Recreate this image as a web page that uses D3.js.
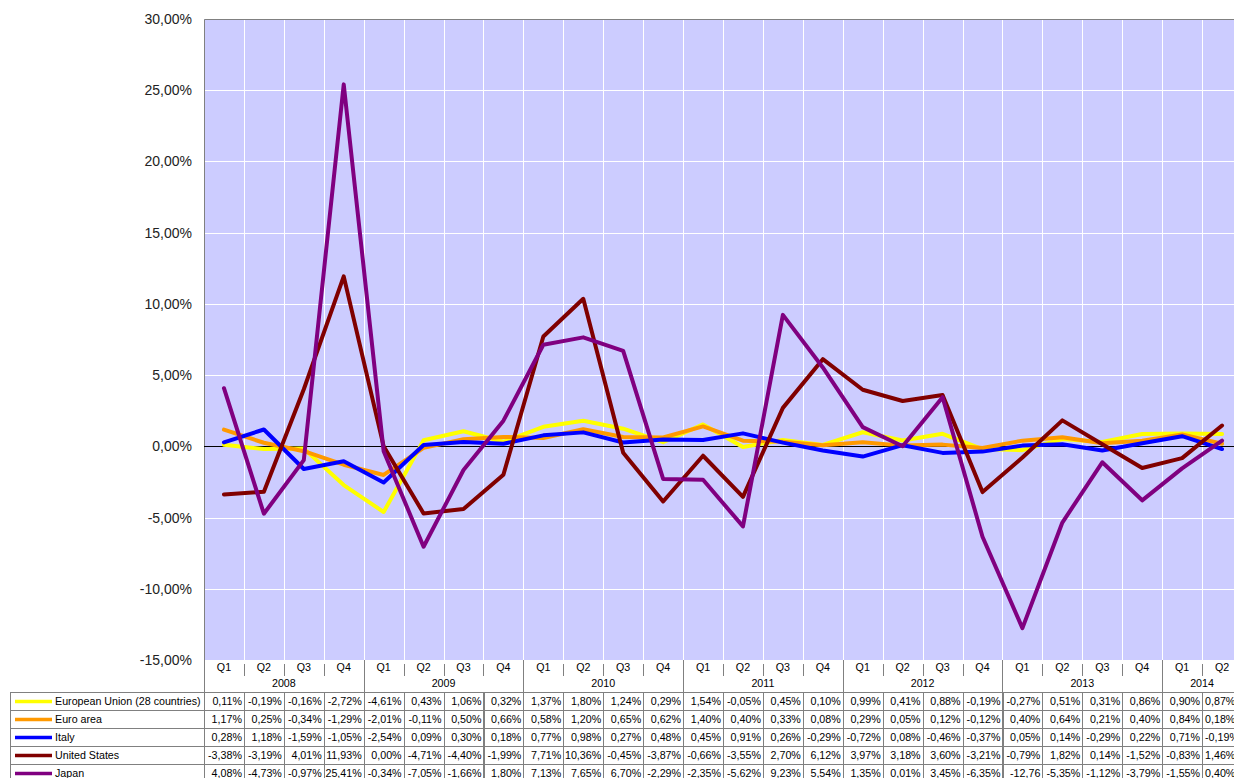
<!doctype html>
<html lang="en">
<head>
<meta charset="UTF-8">
<script src="https://d3js.org/d3.v7.min.js"></script>
<style>
body {
  margin: 0;
  background: #fff;
  font-family: "Liberation Sans", Arial, sans-serif;
}
.grid line {
  stroke: #fff;
  stroke-width: 1;
  shape-rendering: crispEdges;
}
.cell {
  fill: none;
  stroke: #808080;
  shape-rendering: crispEdges;
}
.series {
  fill: none;
  stroke-width: 4;
  stroke-linejoin: round;
  stroke-linecap: round;
}
</style>
<title></title>
</head>
<body>
<div id="main"></div>
<script>
'use strict';

var years = ["2008", "2009", "2010", "2011", "2012", "2013", "2014"];
var quarters = ["Q1", "Q2", "Q3", "Q4"];
var categories = [];
years.forEach(function(y) {
  quarters.forEach(function(q) {
    if (y == "2014" && (q == "Q3" || q == "Q4")) return;
    categories.push(y + " " + q);
  });
});

var seriesNames = ["European Union (28 countries)", "Euro area", "Italy", "United States", "Japan"];
var seriesColors = ["#ffff00", "#ff9900", "#0000ff", "#800000", "#800080"];

var euValues = [0.11, -0.19, -0.16, -2.72, -4.61, 0.43, 1.06, 0.32, 1.37, 1.80, 1.24, 0.29, 1.54, -0.05, 0.45, 0.10, 0.99, 0.41, 0.88, -0.19, -0.27, 0.51, 0.31, 0.86, 0.90, 0.87];
var euroValues = [1.17, 0.25, -0.34, -1.29, -2.01, -0.11, 0.50, 0.66, 0.58, 1.20, 0.65, 0.62, 1.40, 0.40, 0.33, 0.08, 0.29, 0.05, 0.12, -0.12, 0.40, 0.64, 0.21, 0.40, 0.84, 0.18];
var italyValues = [0.28, 1.18, -1.59, -1.05, -2.54, 0.09, 0.30, 0.18, 0.77, 0.98, 0.27, 0.48, 0.45, 0.91, 0.26, -0.29, -0.72, 0.08, -0.46, -0.37, 0.05, 0.14, -0.29, 0.22, 0.71, -0.19];
var usValues = [-3.38, -3.19, 4.01, 11.93, 0.00, -4.71, -4.40, -1.99, 7.71, 10.36, -0.45, -3.87, -0.66, -3.55, 2.70, 6.12, 3.97, 3.18, 3.60, -3.21, -0.79, 1.82, 0.14, -1.52, -0.83, 1.46];
var japanValues = [4.08, -4.73, -0.97, 25.41, -0.34, -7.05, -1.66, 1.80, 7.13, 7.65, 6.70, -2.29, -2.35, -5.62, 9.23, 5.54, 1.35, 0.01, 3.45, -6.35, -12.76, -5.35, -1.12, -3.79, -1.55, 0.40];

var yTicks = [-15, -10, -5, 0, 5, 10, 15, 20, 25, 30];

var series = seriesNames.map(function(name, i) {
  return {name: name, color: seriesColors[i],
          values: [euValues, euroValues, italyValues, usValues, japanValues][i]};
});

var width = 1234, height = 778;
var plotLeft = 204, plotRight = 1242, plotTop = 19, plotBottom = 660;
var rowH = 18, tableTop = 692, tableLeft = 10;
var lastCat = categories[categories.length - 1];

var x = d3.scaleBand().domain(categories).range([plotLeft, plotRight]).padding(0);
var y = d3.scaleLinear().domain([-15, 30]).range([plotBottom, plotTop]);

function fmt(v) {
  return d3.format(".2f")(v).replace("−", "-").replace(".", ",") + "%";
}

var svg = d3.select("#main").append("svg")
  .attr("width", width)
  .attr("height", height);

svg.append("rect")
  .attr("x", plotLeft)
  .attr("y", plotTop)
  .attr("width", plotRight - plotLeft)
  .attr("height", plotBottom - plotTop)
  .attr("fill", "#ccccff");

var grid = svg.append("g").attr("class", "grid");
grid.selectAll(".hg")
  .data(yTicks.filter(function(t) { return t != 0 && t != -15 && t != 30; }))
  .enter().append("line")
  .attr("x1", plotLeft).attr("x2", plotRight)
  .attr("y1", function(d) { return Math.round(y(d)) + 0.5; })
  .attr("y2", function(d) { return Math.round(y(d)) + 0.5; });
grid.selectAll(".vg")
  .data(categories.slice(1))
  .enter().append("line")
  .attr("x1", function(d) { return Math.round(x(d)) + 0.5; })
  .attr("x2", function(d) { return Math.round(x(d)) + 0.5; })
  .attr("y1", plotTop).attr("y2", plotBottom);

// plot frame (top / left) and zero line
svg.append("path")
  .attr("d", "M" + (plotLeft + 0.5) + "," + plotBottom + "V" + (plotTop + 0.5) + "H" + plotRight)
  .attr("fill", "none")
  .attr("stroke", "#808080");
svg.append("line")
  .attr("x1", plotLeft).attr("x2", plotRight)
  .attr("y1", Math.round(y(0)) + 0.5).attr("y2", Math.round(y(0)) + 0.5)
  .attr("stroke", "#000")
  .attr("stroke-width", 1);

svg.append("g").selectAll("text")
  .data(yTicks)
  .enter().append("text")
  .attr("x", 192)
  .attr("y", function(d) { return y(d) + 5; })
  .attr("text-anchor", "end")
  .attr("font-size", "14px")
  .attr("fill", "#222")
  .text(function(d) { return d3.format(".2f")(d).replace("−", "-").replace(".", ",") + "%"; });

var line = d3.line()
  .x(function(d, i) { return x(categories[i]) + x.bandwidth() / 2; })
  .y(function(d) { return y(d); });

svg.append("g").selectAll(".series")
  .data(series)
  .enter().append("path")
  .attr("class", "series")
  .attr("stroke", function(d) { return d.color; })
  .attr("d", function(d) { return line(d.values); });

// header: quarters and years
var head = svg.append("g");
head.selectAll(".q")
  .data(categories)
  .enter().append("text")
  .attr("x", function(d) { return x(d) + x.bandwidth() / 2; })
  .attr("y", 671)
  .attr("text-anchor", "middle")
  .attr("font-size", "10.7px")
  .text(function(d) { return d.split(" ")[1]; });

head.selectAll(".qsep")
  .data(categories.filter(function(d) { return d.split(" ")[1] != "Q1"; }))
  .enter().append("line")
  .attr("class", "cell")
  .attr("x1", function(d) { return Math.round(x(d)) + 0.5; })
  .attr("x2", function(d) { return Math.round(x(d)) + 0.5; })
  .attr("y1", 664).attr("y2", 676);

head.selectAll(".ysep")
  .data(categories.filter(function(d) { return d.split(" ")[1] == "Q1"; }))
  .enter().append("line")
  .attr("class", "cell")
  .attr("x1", function(d) { return Math.round(x(d)) + 0.5; })
  .attr("x2", function(d) { return Math.round(x(d)) + 0.5; })
  .attr("y1", plotBottom).attr("y2", tableTop);

head.selectAll(".year")
  .data(years)
  .enter().append("text")
  .attr("x", function(d) {
    var cs = categories.filter(function(c) { return c.indexOf(d) == 0; });
    return (x(cs[0]) + x(cs[cs.length - 1]) + x.bandwidth()) / 2;
  })
  .attr("y", 687)
  .attr("text-anchor", "middle")
  .attr("font-size", "10.7px")
  .text(function(d) { return d; });

// data table rows
var rows = svg.append("g").selectAll(".row")
  .data(series)
  .enter().append("g")
  .attr("transform", function(d, i) { return "translate(0," + (tableTop + i * rowH) + ")"; });

rows.append("rect")
  .attr("class", "cell")
  .attr("x", tableLeft + 0.5).attr("y", 0.5)
  .attr("width", plotLeft - tableLeft).attr("height", rowH);

rows.append("line")
  .attr("x1", 15).attr("x2", 52)
  .attr("y1", rowH / 2 + 0.5).attr("y2", rowH / 2 + 0.5)
  .attr("stroke", function(d) { return d.color; })
  .attr("stroke-width", 3.5);

rows.append("text")
  .attr("x", 55)
  .attr("y", 13)
  .attr("font-size", "10.7px")
  .text(function(d) { return d.name; });

rows.selectAll(".c")
  .data(function(d) { return d.values; })
  .enter().append("rect")
  .attr("class", "cell")
  .attr("x", function(d, i) { return Math.round(x(categories[i])) + 0.5; })
  .attr("y", 0.5)
  .attr("width", x.bandwidth())
  .attr("height", rowH);

// the last, cut-off column is laid out from its left edge
rows.selectAll(".v")
  .data(function(d) { return d.values; })
  .enter().append("text")
  .attr("x", function(d, i) {
    return categories[i] == lastCat ? x(categories[i]) + 3 : x(categories[i]) + x.bandwidth() - 2;
  })
  .attr("y", 13)
  .attr("text-anchor", function(d, i) { return categories[i] == lastCat ? "start" : "end"; })
  .attr("font-size", "10.7px")
  .text(function(d) { return fmt(d); })
  .each(function() {
    // drop the % sign when the value does not fit its cell
    if (this.getComputedTextLength() > x.bandwidth() - 2) {
      this.textContent = this.textContent.replace("%", "");
    }
  });
</script>
</body>
</html>
